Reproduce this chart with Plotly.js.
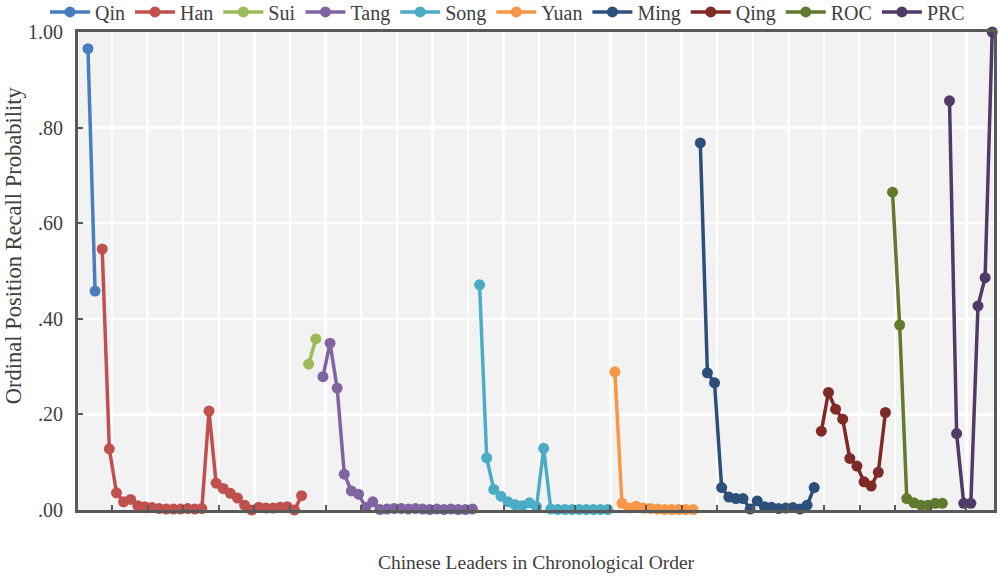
<!DOCTYPE html>
<html>
<head>
<meta charset="utf-8">
<script src="https://cdn.plot.ly/plotly-3.0.1.min.js"></script>
<style>
  html, body { margin: 0; padding: 0; background: #fff; }
  #chart { width: 1000px; height: 577px; }
</style>
</head>
<body>
<div id="chart"></div>
<script>
// recall probability per leader, in chronological order, one array per dynasty
const dynasties = ["Qin", "Han", "Sui", "Tang", "Song", "Yuan", "Ming", "Qing", "ROC", "PRC"];

const qin = [0.965, 0.458];
const han = [0.546, 0.128, 0.036, 0.017, 0.022, 0.009, 0.007, 0.005, 0.003, 0.002,
  0.002, 0.002, 0.003, 0.002, 0.003, 0.207, 0.056, 0.045, 0.035, 0.025,
  0.010, 0.000, 0.006, 0.004, 0.004, 0.006, 0.007, 0.000, 0.030];
const sui = [0.305, 0.358];
const tang = [0.279, 0.349, 0.255, 0.075, 0.040, 0.033, 0.006, 0.017,
  0.001, 0.002, 0.003, 0.003, 0.002, 0.003, 0.002, 0.001, 0.002, 0.001, 0.002, 0.001, 0.001, 0.002];
const song = [0.471, 0.109, 0.043, 0.029, 0.017, 0.011, 0.009, 0.015, 0.007, 0.129,
  0.002, 0.001, 0.001, 0.001, 0.001, 0.001, 0.001, 0.001, 0.001];
const yuan = [0.289, 0.014, 0.004, 0.008, 0.004, 0.003, 0.002, 0.001, 0.001, 0.001, 0.001, 0.001];
const ming = [0.768, 0.287, 0.266, 0.047, 0.027, 0.024, 0.024, 0.002, 0.019,
  0.007, 0.006, 0.003, 0.004, 0.005, 0.002, 0.010, 0.047];
const qing = [0.165, 0.246, 0.211, 0.190, 0.108, 0.092, 0.059, 0.050, 0.079, 0.204];
const roc = [0.665, 0.387, 0.024, 0.015, 0.010, 0.010, 0.014, 0.014];
const prc = [0.856, 0.160, 0.014, 0.014, 0.427, 0.486, 1.000];

const series = [qin, han, sui, tang, song, yuan, ming, qing, roc, prc];
const colors = ["#4a7dbf", "#c0504d", "#9bbb59", "#8064a2", "#4bacc6",
  "#f79646", "#2c4f7c", "#7f2a27", "#617a2e", "#4f3a68"];

const yTicks = [0, 0.2, 0.4, 0.6, 0.8, 1.0];
const yTickText = [".00", ".20", ".40", ".60", ".80", "1.00"];

const serif = "Liberation Serif, Times New Roman, serif";
const textColor = "#404040";

let offset = 0;
const data = series.map((values, i) => {
  const x = values.map((_, j) => offset + j);
  offset += values.length;
  return {
    x: x,
    y: values,
    name: dynasties[i],
    type: "scatter",
    mode: "lines+markers",
    line: { color: colors[i], width: 3.5 },
    marker: { color: colors[i], size: 11 },
    cliponaxis: false,
  };
});

const layout = {
  width: 1000,
  height: 577,
  margin: { l: 78, r: 6, t: 32, b: 67, autoexpand: false },
  paper_bgcolor: "#ffffff",
  plot_bgcolor: "#f2f2f2",
  font: { family: serif, color: textColor, size: 19 },
  showlegend: true,
  legend: {
    orientation: "h",
    xref: "paper",
    yref: "paper",
    x: -0.036,
    xanchor: "left",
    y: 1.042,
    yanchor: "middle",
    font: { family: serif, size: 20, color: textColor },
    itemwidth: 40,
    tracegroupgap: 0,
    bgcolor: "rgba(0,0,0,0)",
  },
  xaxis: {
    range: [-1.4, 127.25],
    autorange: false,
    tickmode: "linear",
    tick0: 3.37,
    dtick: 5,
    ticks: "inside",
    ticklen: 5,
    tickwidth: 2,
    tickcolor: "#595959",
    showticklabels: false,
    showgrid: true,
    gridcolor: "#ffffff",
    gridwidth: 2.5,
    zeroline: false,
    showline: true,
    mirror: true,
    linecolor: "#595959",
    linewidth: 3,
    title: { text: "Chinese Leaders in Chronological Order", font: { family: serif, size: 19.5, color: textColor }, standoff: 44 },
  },
  yaxis: {
    range: [0, 1],
    autorange: false,
    tickmode: "array",
    tickvals: yTicks,
    ticktext: yTickText,
    ticks: "inside",
    ticklen: 5,
    tickwidth: 2,
    tickcolor: "#595959",
    ticklabelstandoff: 8,
    tickfont: { family: serif, size: 20, color: textColor },
    showgrid: true,
    gridcolor: "#ffffff",
    gridwidth: 2.5,
    zeroline: false,
    showline: true,
    mirror: true,
    linecolor: "#595959",
    linewidth: 3,
  },
  annotations: [{
    text: "Ordinal Position Recall Probability",
    xref: "paper",
    yref: "paper",
    x: -0.071,
    y: 0.554,
    xanchor: "center",
    yanchor: "middle",
    textangle: -90,
    showarrow: false,
    font: { family: serif, size: 22.5, color: textColor },
  }],
};

const config = {
  displaylogo: false,
  displayModeBar: false,
  responsive: false,
  staticPlot: true,
};

Plotly.newPlot("chart", data, layout, config);
</script>
</body>
</html>
